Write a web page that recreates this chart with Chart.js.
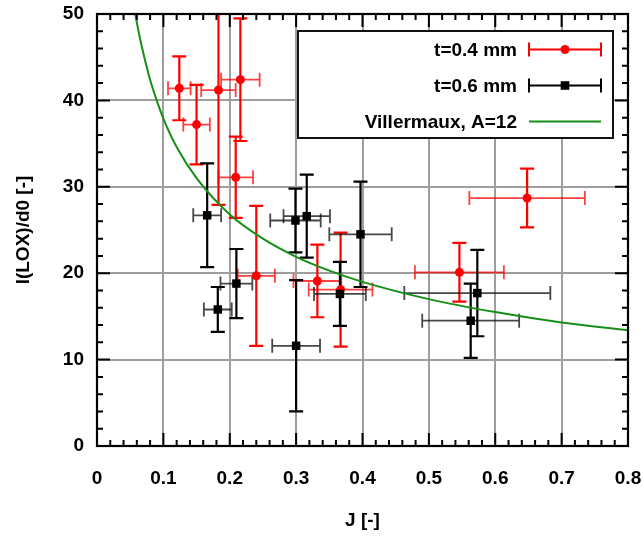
<!DOCTYPE html>
<html>
<head>
<meta charset="utf-8">
<script src="https://cdn.jsdelivr.net/npm/chart.js@4.4.1/dist/chart.umd.min.js"></script>
<style>
  html, body { margin: 0; padding: 0; background: #ffffff; }
  canvas { display: block; }
</style>
</head>
<body>
<canvas id="chart" width="643" height="541"></canvas>
<script>
// Measured LOX core length vs momentum flux ratio, two post thicknesses
const t04J  = [0.124, 0.150, 0.183, 0.216, 0.209, 0.240, 0.332, 0.367, 0.546, 0.648];
const t04L  = [41.4, 37.2, 41.2, 42.4, 31.1, 19.7, 19.1, 18.1, 20.1, 28.7];
const t04dJ = [0.017, 0.020, 0.026, 0.029, 0.026, 0.028, 0.036, 0.048, 0.067, 0.087];
const t04dL = [3.7, 4.6, 13.3, 7.1, 4.7, 8.1, 4.2, 6.6, 3.4, 3.4];

const t06J  = [0.166, 0.210, 0.182, 0.299, 0.316, 0.300, 0.397, 0.366, 0.573, 0.563];
const t06L  = [26.7, 18.8, 15.8, 26.1, 26.6, 11.6, 24.5, 17.6, 17.7, 14.5];
const t06dJ = [0.021, 0.024, 0.021, 0.038, 0.035, 0.036, 0.047, 0.039, 0.110, 0.073];
const t06dL = [6.0, 4.0, 2.6, 3.7, 4.8, 7.6, 6.1, 3.7, 5.0, 4.3];

// Villermaux correlation, A = 12
const villJ = [0.0576, 0.06, 0.065, 0.07, 0.08, 0.09, 0.10, 0.12, 0.15, 0.20, 0.25, 0.30, 0.35, 0.40, 0.50, 0.60, 0.70, 0.80];
const villL = [50.0, 49.0, 47.1, 45.4, 42.4, 40.0, 37.9, 34.6, 31.0, 26.8, 24.0, 21.9, 20.3, 19.0, 17.0, 15.5, 14.3, 13.4];

const xTickLabels = ['0', '0.1', '0.2', '0.3', '0.4', '0.5', '0.6', '0.7', '0.8'];
const yTickLabels = ['0', '10', '20', '30', '40', '50'];

const legendLabels = ['t=0.4 mm', 't=0.6 mm', 'Villermaux, A=12'];

const FONT = '"Liberation Sans", Arial, Helvetica, sans-serif';
const RED = '#ff0000';
const BLACK = '#000000';
const GREEN = '#168f16';
const GRID = 'rgb(158,158,158)';

const pts = (xs, ys) => xs.map((v, i) => ({ x: v, y: ys[i] }));

// Crossed error bars drawn through the chart scales
const errorBars = {
  id: 'errorBars',
  beforeDatasetsDraw(chart) {
    const { ctx, chartArea: a, scales: { x, y } } = chart;
    const cap = 7;
    ctx.save();
    ctx.beginPath();
    ctx.rect(a.left, a.top, a.width, a.height);
    ctx.clip();
    chart.data.datasets.forEach(ds => {
      if (!ds.xErr) return;
      ds.data.forEach((p, i) => {
        const px = x.getPixelForValue(p.x), py = y.getPixelForValue(p.y);
        const xl = x.getPixelForValue(p.x - ds.xErr[i]);
        const xr = x.getPixelForValue(p.x + ds.xErr[i]);
        const yb = y.getPixelForValue(p.y - ds.yErr[i]);
        const yt = y.getPixelForValue(p.y + ds.yErr[i]);
        // horizontal bar
        ctx.strokeStyle = ds.hBarColor;
        ctx.lineWidth = 1.8;
        ctx.beginPath();
        ctx.moveTo(xl, py); ctx.lineTo(xr, py);
        ctx.moveTo(xl, py - cap); ctx.lineTo(xl, py + cap);
        ctx.moveTo(xr, py - cap); ctx.lineTo(xr, py + cap);
        ctx.stroke();
        // vertical bar
        ctx.strokeStyle = ds.borderColor;
        ctx.lineWidth = 2.2;
        ctx.beginPath();
        ctx.moveTo(px, yb); ctx.lineTo(px, yt);
        ctx.moveTo(px - cap, yb); ctx.lineTo(px + cap, yb);
        ctx.moveTo(px - cap, yt); ctx.lineTo(px + cap, yt);
        ctx.stroke();
      });
    });
    ctx.restore();
  }
};

// Border with inward major and minor ticks on all four sides
const frameTicks = {
  id: 'frameTicks',
  afterDatasetsDraw(chart) {
    const { ctx, chartArea: a, scales: { x, y } } = chart;
    const major = 13, minor = 6;
    ctx.save();
    ctx.strokeStyle = '#000';
    ctx.lineWidth = 2;
    ctx.beginPath();
    for (let k = 0; k <= 40; k++) {
      const v = k * 0.02;
      const px = x.getPixelForValue(v);
      const len = (k % 5 === 0) ? major : minor;
      ctx.moveTo(px, a.bottom); ctx.lineTo(px, a.bottom - len);
      ctx.moveTo(px, a.top); ctx.lineTo(px, a.top + len);
    }
    for (let k = 0; k <= 25; k++) {
      const v = k * 2;
      const py = y.getPixelForValue(v);
      const len = (k % 5 === 0) ? major : minor;
      ctx.moveTo(a.left, py); ctx.lineTo(a.left + len, py);
      ctx.moveTo(a.right, py); ctx.lineTo(a.right - len, py);
    }
    ctx.stroke();
    ctx.lineWidth = 2.2;
    ctx.strokeRect(a.left, a.top, a.right - a.left, a.bottom - a.top);
    ctx.restore();
  }
};

// Key box in the upper right of the plot
const keyBox = {
  id: 'keyBox',
  afterDraw(chart) {
    const { ctx } = chart;
    const box = { l: 298, t: 31, r: 613, b: 138 };
    const rows = [49.5, 85.5, 121.5];
    const textRight = 517, s0 = 529, s1 = 601, sm = 565, cap = 7;
    ctx.save();
    ctx.fillStyle = '#fff';
    ctx.fillRect(box.l, box.t, box.r - box.l, box.b - box.t);
    ctx.strokeStyle = '#111';
    ctx.lineWidth = 2;
    ctx.strokeRect(box.l, box.t, box.r - box.l, box.b - box.t);
    ctx.font = 'bold 19px ' + FONT;
    ctx.fillStyle = '#000';
    ctx.textAlign = 'right';
    ctx.textBaseline = 'middle';
    legendLabels.forEach((t, i) => ctx.fillText(t, textRight, rows[i] + 1));
    [RED, BLACK].forEach((c, i) => {
      const yy = rows[i];
      ctx.strokeStyle = c;
      ctx.lineWidth = 2;
      ctx.beginPath();
      ctx.moveTo(s0, yy); ctx.lineTo(s1, yy);
      ctx.moveTo(s0, yy - cap); ctx.lineTo(s0, yy + cap);
      ctx.moveTo(s1, yy - cap); ctx.lineTo(s1, yy + cap);
      ctx.stroke();
      ctx.fillStyle = c;
      ctx.beginPath();
      if (i === 0) ctx.arc(sm, yy, 4.5, 0, Math.PI * 2);
      else ctx.rect(sm - 4.3, yy - 4.3, 8.6, 8.6);
      ctx.fill();
    });
    ctx.strokeStyle = GREEN;
    ctx.lineWidth = 2;
    ctx.beginPath();
    ctx.moveTo(s0, rows[2]); ctx.lineTo(s1, rows[2]);
    ctx.stroke();
    ctx.restore();
  }
};

const tickFont = { family: FONT, size: 19, weight: 'bold' };

new Chart(document.getElementById('chart'), {
  type: 'scatter',
  data: {
    datasets: [
      {
        label: legendLabels[2],
        data: pts(villJ, villL),
        showLine: true,
        borderColor: GREEN,
        borderWidth: 2,
        pointRadius: 0,
        cubicInterpolationMode: 'monotone',
        order: 3
      },
      {
        label: legendLabels[0],
        data: pts(t04J, t04L),
        xErr: t04dJ, yErr: t04dL,
        borderColor: RED,
        hBarColor: 'rgba(255,0,0,0.75)',
        backgroundColor: RED,
        pointStyle: 'circle',
        pointRadius: 4.5,
        pointBorderWidth: 0,
        order: 2
      },
      {
        label: legendLabels[1],
        data: pts(t06J, t06L),
        xErr: t06dJ, yErr: t06dL,
        borderColor: BLACK,
        hBarColor: 'rgba(0,0,0,0.72)',
        backgroundColor: BLACK,
        pointStyle: 'rect',
        pointRadius: 6,
        pointBorderWidth: 0,
        order: 1
      }
    ]
  },
  options: {
    responsive: false,
    animation: false,
    layout: { padding: { top: 14, right: 15, left: 0, bottom: 0 } },
    plugins: { legend: { display: false }, tooltip: { enabled: false } },
    scales: {
      x: {
        type: 'linear',
        min: 0, max: 0.8,
        afterFit: s => { s.height = 95; s.paddingLeft = 0; s.paddingRight = 0; },
        ticks: {
          stepSize: 0.1,
          color: '#000',
          font: tickFont,
          padding: 21,
          maxRotation: 0,
          callback: (v, i) => xTickLabels[i]
        },
        grid: { color: GRID, lineWidth: 2, drawTicks: false },
        border: { display: false },
        title: { display: true, text: 'J [-]', color: '#000', font: tickFont, padding: { top: 0, bottom: 9 } }
      },
      y: {
        type: 'linear',
        min: 0, max: 50,
        afterFit: s => { s.width = 97; s.paddingTop = 0; s.paddingBottom = 0; },
        ticks: {
          stepSize: 10,
          color: '#000',
          font: tickFont,
          padding: 13,
          callback: (v, i) => yTickLabels[i]
        },
        grid: { color: GRID, lineWidth: 2, drawTicks: false },
        border: { display: false },
        title: { display: true, text: 'l(LOX)/d0 [-]', color: '#000', font: tickFont, padding: { top: 12, bottom: 0 } }
      }
    }
  },
  plugins: [errorBars, frameTicks, keyBox]
});
</script>
</body>
</html>
